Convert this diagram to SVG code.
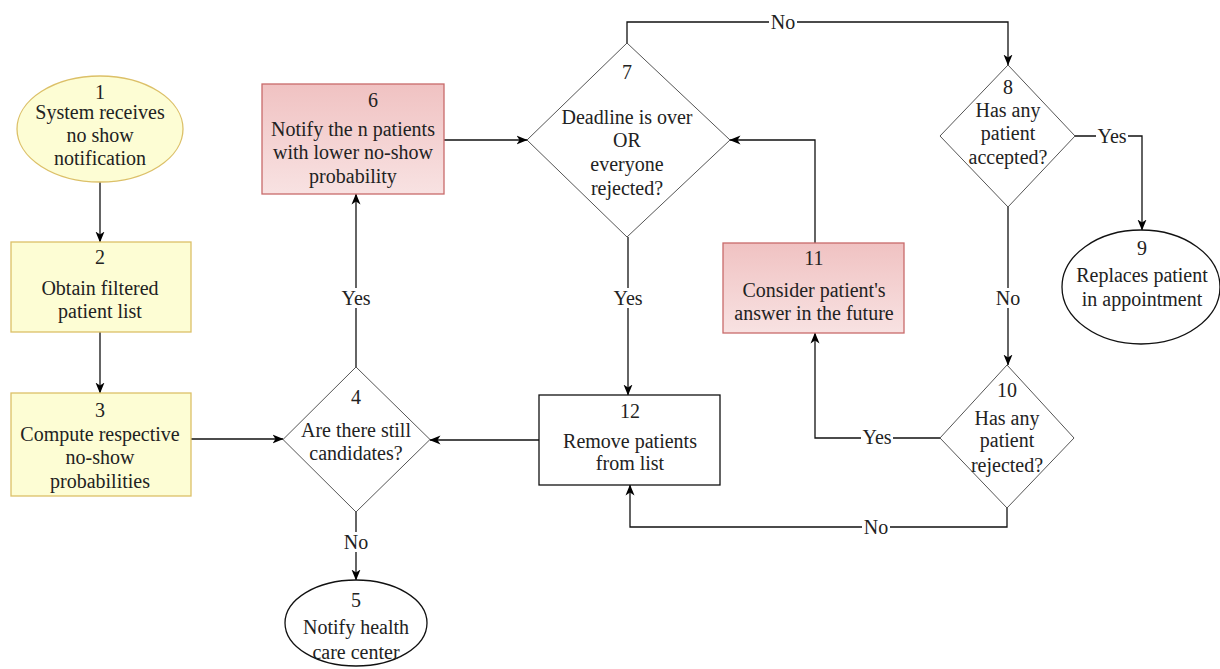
<svg xmlns="http://www.w3.org/2000/svg" width="1220" height="669" viewBox="0 0 1220 669">
<defs>
<marker id="arr" markerWidth="11" markerHeight="10" refX="10.5" refY="5" orient="auto" markerUnits="userSpaceOnUse">
<path d="M0,0.5 L11,5 L0,9.5 L3,5 Z" fill="#000"/>
</marker>
<linearGradient id="red" x1="0" y1="0" x2="0" y2="1">
<stop offset="0" stop-color="#f0c2c2"/>
<stop offset="1" stop-color="#f8e2e2"/>
</linearGradient>
<style>
text{font-family:"Liberation Serif","Times New Roman",serif;font-size:20px;fill:#222;text-anchor:middle;dominant-baseline:central}
.yel{fill:#fdfdd4;stroke:#dcc068;stroke-width:1.3}
.redbox{fill:url(#red);stroke:#c86a6a;stroke-width:1.3}
.plain{fill:#fff;stroke:#111;stroke-width:1.3}
.dia{fill:#fff;stroke:#555;stroke-width:1}
.edge{fill:none;stroke:#111;stroke-width:1.3}
.arrow{marker-end:url(#arr)}
.lbg{fill:#fff}
</style>
</defs>
<rect width="1220" height="669" fill="#fff"/>

<g id="connectors">
<path class="edge arrow" d="M100,182 L100,242"/>
<path class="edge arrow" d="M100,332 L100,393"/>
<path class="edge arrow" d="M191,439 L283,439"/>
<path class="edge arrow" d="M356,367 L356,194"/>
<path class="edge arrow" d="M356,512 L356,580"/>
<path class="edge arrow" d="M444,140 L527,140"/>
<path class="edge arrow" d="M627,43 L627,22 L1008,22 L1008,65"/>
<path class="edge arrow" d="M1075,136 L1142,136 L1142,230"/>
<path class="edge arrow" d="M1008,207 L1008,365"/>
<path class="edge arrow" d="M940,438 L815,438 L815,333"/>
<path class="edge arrow" d="M815,243 L815,140 L730,140"/>
<path class="edge arrow" d="M628,237 L628,395"/>
<path class="edge arrow" d="M1007,508 L1007,527 L630,527 L630,485"/>
<path class="edge arrow" d="M539,440 L430,440"/>
<g id="edge-labels">
<rect class="lbg" x="769" y="12" width="28" height="20"/><text x="783" y="22">No</text>
<rect class="lbg" x="1096" y="126" width="32" height="20"/><text x="1112" y="136">Yes</text>
<rect class="lbg" x="612" y="288" width="32" height="20"/><text x="628" y="298">Yes</text>
<rect class="lbg" x="994" y="288" width="28" height="20"/><text x="1008" y="298">No</text>
<rect class="lbg" x="861" y="428" width="32" height="20"/><text x="877" y="437">Yes</text>
<rect class="lbg" x="862" y="517" width="28" height="20"/><text x="876" y="527">No</text>
<rect class="lbg" x="340" y="288" width="32" height="20"/><text x="356" y="298">Yes</text>
<rect class="lbg" x="342" y="532" width="28" height="20"/><text x="356" y="542">No</text>
</g>
</g>

<g id="node1">
<ellipse class="yel" cx="100" cy="129" rx="83" ry="53"/>
<text x="100" y="92">1</text>
<text x="100" y="112">System receives</text>
<text x="100" y="135">no show</text>
<text x="100" y="158">notification</text>
</g>
<g id="node2">
<rect class="yel" x="11" y="242" width="180" height="90"/>
<text x="100" y="257">2</text>
<text x="100" y="288">Obtain filtered</text>
<text x="100" y="311">patient list</text>
</g>
<g id="node3">
<rect class="yel" x="11" y="393" width="180" height="103"/>
<text x="100" y="410">3</text>
<text x="100" y="434">Compute respective</text>
<text x="100" y="457">no-show</text>
<text x="100" y="481">probabilities</text>
</g>
<g id="node4">
<polygon class="dia" points="356,367 430,439.5 356,512 283,439.5"/>
<text x="356" y="397">4</text>
<text x="356" y="430">Are there still</text>
<text x="356" y="453">candidates?</text>
</g>
<g id="node5">
<ellipse class="plain" cx="356" cy="623" rx="71" ry="43"/>
<text x="356" y="600">5</text>
<text x="356" y="627">Notify health</text>
<text x="356" y="652">care center</text>
</g>
<g id="node6">
<rect class="redbox" x="262" y="84" width="182" height="110"/>
<text x="373" y="100">6</text>
<text x="353" y="129">Notify the n patients</text>
<text x="353" y="152">with lower no-show</text>
<text x="353" y="176">probability</text>
</g>
<g id="node7">
<polygon class="dia" points="627,43 730,140 627,237 527,140"/>
<text x="627" y="72">7</text>
<text x="627" y="117">Deadline is over</text>
<text x="627" y="140">OR</text>
<text x="627" y="164">everyone</text>
<text x="627" y="188">rejected?</text>
</g>
<g id="node8">
<polygon class="dia" points="1008,65 1075,136 1008,207 940,136"/>
<text x="1008" y="87">8</text>
<text x="1008" y="110">Has any</text>
<text x="1008" y="133">patient</text>
<text x="1008" y="157">accepted?</text>
</g>
<g id="node9">
<ellipse class="plain" cx="1141" cy="287" rx="79" ry="57"/>
<text x="1142" y="248">9</text>
<text x="1142" y="275">Replaces patient</text>
<text x="1142" y="299">in appointment</text>
</g>
<g id="node10">
<polygon class="dia" points="1007,365 1074,438 1007,508 940,438"/>
<text x="1007" y="390">10</text>
<text x="1007" y="418">Has any</text>
<text x="1007" y="440">patient</text>
<text x="1007" y="465">rejected?</text>
</g>
<g id="node11">
<rect class="redbox" x="723" y="243" width="181" height="90"/>
<text x="814" y="258">11</text>
<text x="814" y="290">Consider patient's</text>
<text x="814" y="313">answer in the future</text>
</g>
<g id="node12">
<rect class="plain" x="539" y="395" width="181" height="90"/>
<text x="630" y="411">12</text>
<text x="630" y="441">Remove patients</text>
<text x="630" y="463">from list</text>
</g>
</svg>
